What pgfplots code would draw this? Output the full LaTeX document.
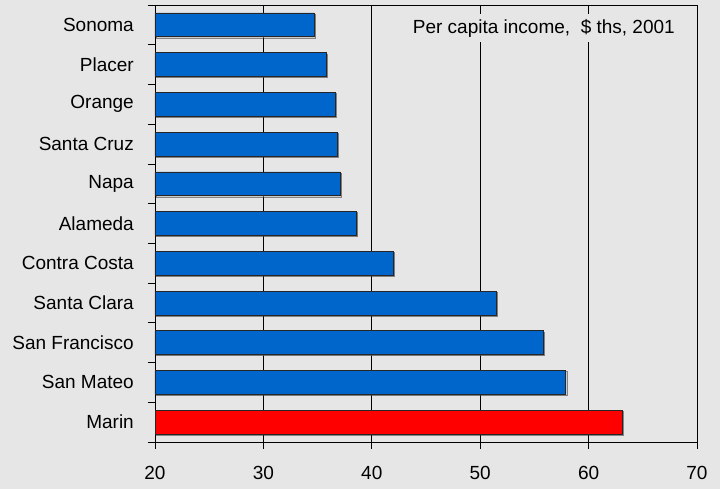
\documentclass[border=0pt]{standalone}
\usepackage{pgfplots}
\pgfplotsset{compat=1.18}
\usepackage{fontspec}
\setmainfont{Liberation Sans}
\usetikzlibrary{shadows}
\definecolor{bg}{HTML}{E6E6E6}
\definecolor{barblue}{HTML}{0066CC}
\definecolor{barred}{HTML}{FF0000}
\begin{document}
\fontsize{19bp}{22bp}\selectfont
\begin{tikzpicture}
\fill[bg] (-155bp,-47bp) rectangle (565bp,442bp);
\begin{axis}[
  at={(0,0)}, anchor=south west,
  scale only axis, width=542bp, height=437bp,
  xmin=20, xmax=70, ymin=-0.5, ymax=10.5,
  xbar, bar width=0.6, bar shift=0pt,
  xtick={20,30,...,70},
  xtick pos=left, ytick pos=left,
  tick align=outside, major tick length=7bp,
  tick style={black, line width=0.8bp},
  xmajorgrids, grid style={black, line width=0.8bp},
  axis line style={black, line width=0.8bp},
  ytick={-0.5,0.5,...,10.5}, yticklabels={},
  extra y ticks={0,...,10},
  extra y tick labels={Marin, San Mateo, San Francisco, Santa Clara, Contra Costa, Alameda, Napa, Santa Cruz, Orange, Placer, Sonoma},
  extra y tick style={grid=none, major tick length=0pt},
  yticklabel style={anchor=east, inner sep=0pt, xshift=-21bp},
  xticklabel style={inner sep=0pt, yshift=-17bp},
  tick label style={font=\fontsize{19bp}{22bp}\selectfont},
  /pgf/number format/assume math mode=true,
]
\addplot[xbar, fill=barblue, draw=black!85, line width=0.7bp,
  drop shadow={shadow xshift=1.2bp, shadow yshift=-1.2bp, fill=black!30}]
  coordinates {(57.9,1) (55.8,2) (51.5,3) (42.0,4) (38.6,5) (37.1,6) (36.8,7) (36.6,8) (35.8,9) (34.7,10)};
\addplot[xbar, fill=barred, draw=black!85, line width=0.7bp,
  drop shadow={shadow xshift=1.2bp, shadow yshift=-1.2bp, fill=black!30}]
  coordinates {(63.1,0)};
\node[anchor=north east, fill=bg, inner xsep=3bp, inner ysep=5bp, font=\fontsize{19bp}{22bp}\selectfont]
  at (rel axis cs:1,1) [xshift=-19bp, yshift=-9bp] {Per capita income,\ \ \$ ths, 2001};
\end{axis}
\end{tikzpicture}
\end{document}
